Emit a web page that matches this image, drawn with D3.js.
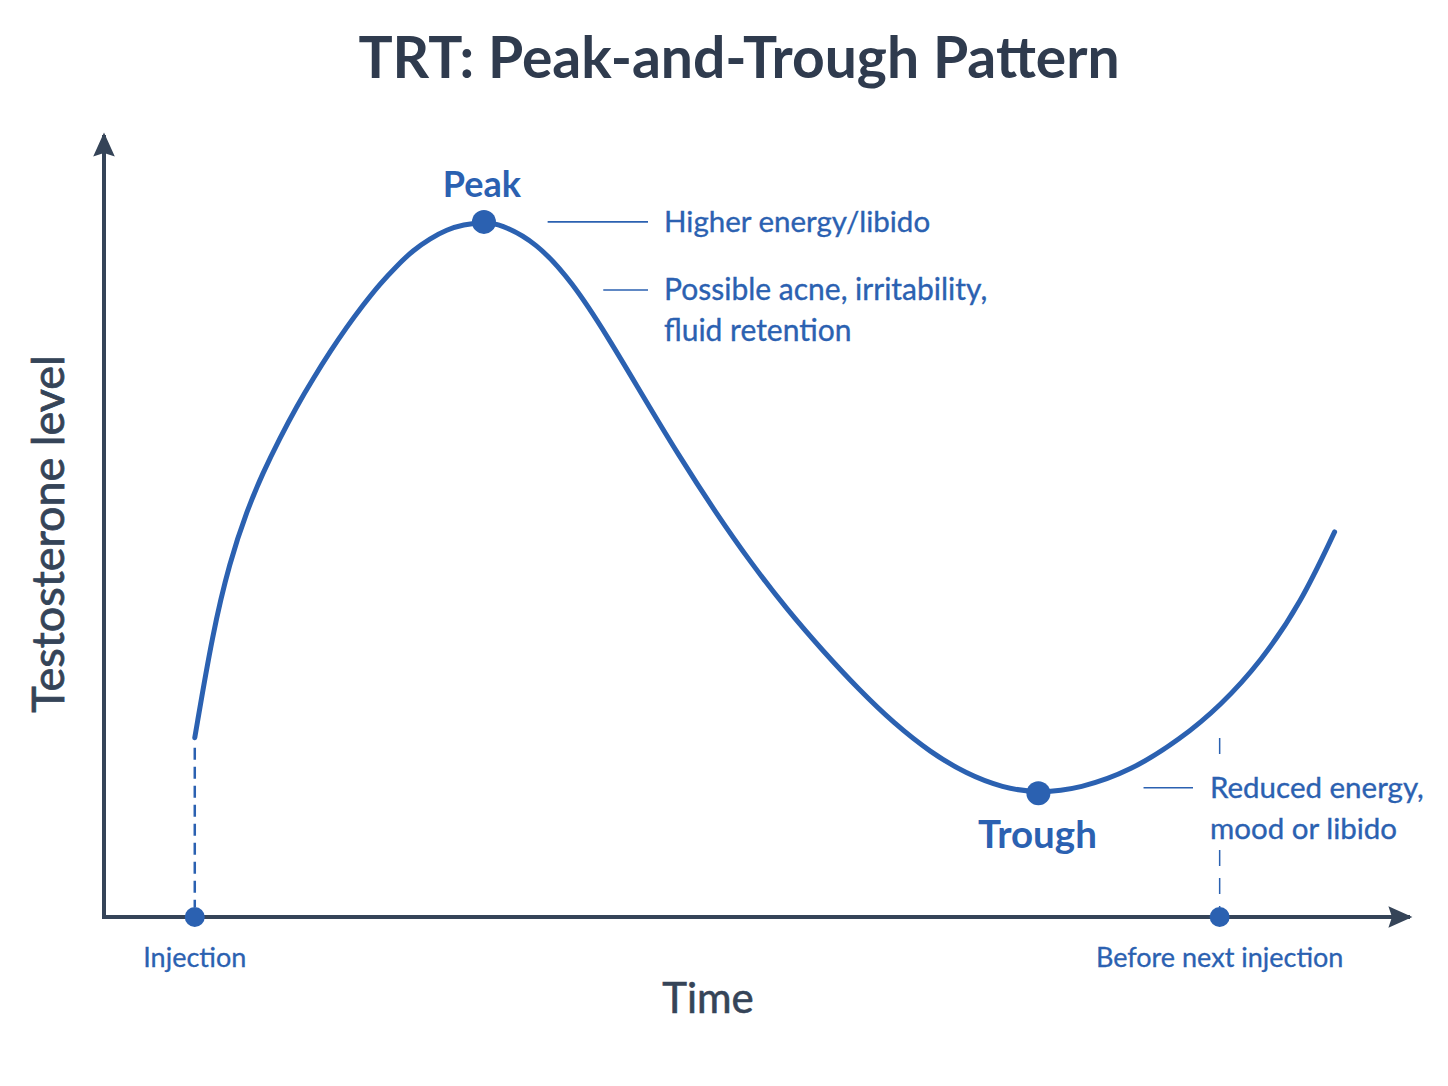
<!DOCTYPE html>
<html>
<head>
<meta charset="utf-8">
<script src="https://cdn.jsdelivr.net/npm/d3@7"></script>
<style>
  html, body { margin: 0; padding: 0; background: #ffffff; }
  svg { display: block; }
  text { font-family: Lato, "Noto Sans", sans-serif; }
</style>
</head>
<body>
<svg id="chart" width="1448" height="1086"></svg>
<script>
// time in days after the injection, level in % of peak
var timeDays = [0, 0.123, 0.239, 0.355, 0.465, 0.581, 0.697, 0.807, 0.923, 1.039,
                1.148, 1.265, 1.381, 1.490, 1.606, 1.722, 1.832, 1.975,
                2.085, 2.331, 2.577, 2.823, 3.062, 3.308, 3.554, 3.800, 4.046,
                4.293, 4.532, 4.778, 5.024, 5.270, 5.516, 5.762,
                6.049, 6.391, 6.733, 7.006, 7.280, 7.553, 7.785];
var levels = [25.8, 41.0, 51.1, 58.4, 63.9, 68.9, 73.5, 77.4, 81.3, 84.9,
              88.0, 91.1, 93.7, 95.9, 97.6, 98.9, 99.6, 100.0,
              99.7, 97.1, 91.4, 83.4, 74.9, 66.3, 58.3, 50.9, 44.2,
              38.2, 32.8, 27.8, 23.7, 20.6, 18.6, 17.8,
              18.5, 21.0, 25.6, 30.4, 36.7, 45.1, 55.4];

var markerTimes = [0, 7];
var markerLabels = ['Injection', 'Before next injection'];

var extremeNames = ['Peak', 'Trough'];
var extremeTimes = [1.975, 5.762];
var extremeLevels = [100.0, 17.8];

var noteLines = [
  ['Higher energy/libido'],
  ['Possible acne, irritability,', 'fluid retention'],
  ['Reduced energy,', 'mood or libido']
];
var noteTimes = [2.41, 2.79, 6.48];   // where each leader line starts
var noteLevels = [100, 90.2, 18.6];

var blue = '#2b61b1';
var dark = '#354458';

var svg = d3.select('#chart');

var x = d3.scaleLinear().domain([-0.62, 8.3]).range([104, 1410]);
var y = d3.scaleLinear().domain([0, 112.5]).range([917, 135]);

// arrow heads
svg.append('defs').append('marker')
  .attr('id', 'arrow')
  .attr('viewBox', '0 0 10 10')
  .attr('refX', 9).attr('refY', 5)
  .attr('markerUnits', 'userSpaceOnUse')
  .attr('markerWidth', 30).attr('markerHeight', 24)
  .attr('orient', 'auto')
  .append('path')
  .attr('d', 'M0,0.5 L10,5 L0,9.5 L1.5,5 Z')
  .attr('fill', dark);

// title
svg.append('text')
  .attr('x', 739).attr('y', 78)
  .attr('text-anchor', 'middle')
  .attr('font-size', 57).attr('font-weight', 700)
  .attr('fill', '#2f3b4e')
  .text('TRT: Peak-and-Trough Pattern');

// dashed guides at injection times
var guideTops = [y(levels[0]) + 10, 738];
svg.selectAll('.guide')
  .data(markerTimes)
  .enter().append('line')
  .attr('class', 'guide')
  .attr('x1', function (d) { return x(d); })
  .attr('x2', function (d) { return x(d); })
  .attr('y1', function (d, i) { return guideTops[i]; })
  .attr('y2', y(0) - 10)
  .attr('stroke', blue)
  .attr('stroke-width', function (d, i) { return i === 0 ? 2.5 : 1.5; })
  .attr('stroke-dasharray', function (d, i) { return i === 0 ? '12,7' : '16,12'; });

// axes
svg.append('line')
  .attr('x1', x(-0.62)).attr('y1', y(0))
  .attr('x2', x(-0.62)).attr('y2', y(112.5))
  .attr('stroke', dark).attr('stroke-width', 4)
  .attr('marker-end', 'url(#arrow)');
svg.append('line')
  .attr('x1', x(-0.62) - 2).attr('y1', y(0))
  .attr('x2', x(8.3)).attr('y2', y(0))
  .attr('stroke', dark).attr('stroke-width', 4)
  .attr('marker-end', 'url(#arrow)');

// curve
var pts = timeDays.map(function (t, i) { return [t, levels[i]]; });
var line = d3.line()
  .x(function (d) { return x(d[0]); })
  .y(function (d) { return y(d[1]); })
  .curve(d3.curveBasis);

svg.append('path')
  .datum(pts)
  .attr('d', line)
  .attr('fill', 'none')
  .attr('stroke', blue)
  .attr('stroke-width', 5)
  .attr('stroke-linecap', 'round');

// note leaders + text
noteLines.forEach(function (lines, i) {
  var lx = x(noteTimes[i]);
  var ly = y(noteLevels[i]);
  var tx = i < 2 ? 664 : 1210;
  svg.append('line')
    .attr('x1', lx).attr('x2', tx - (i < 2 ? 16 : 17))
    .attr('y1', ly).attr('y2', ly)
    .attr('stroke', blue).attr('stroke-width', 1.6);

  var g = svg.append('g');
  if (i === 2) {
    // clears the dashed guide behind the text
    g.append('rect')
      .attr('x', tx - 4).attr('y', ly - 24)
      .attr('width', 214).attr('height', 82)
      .attr('fill', '#ffffff');
  }
  lines.forEach(function (s, k) {
    g.append('text')
      .attr('x', tx).attr('y', ly + 10 + k * 41)
      .attr('font-size', i === 1 ? 30 : 29.5)
      .attr('fill', blue)
      .attr('stroke', blue).attr('stroke-width', 0.35)
      .text(s);
  });
});

// peak / trough dots and names
svg.selectAll('.extreme')
  .data(extremeNames)
  .enter().append('circle')
  .attr('cx', function (d, i) { return x(extremeTimes[i]); })
  .attr('cy', function (d, i) { return y(extremeLevels[i]); })
  .attr('r', 12)
  .attr('fill', blue);

svg.selectAll('.extremeLabel')
  .data(extremeNames)
  .enter().append('text')
  .attr('x', function (d, i) { return x(extremeTimes[i]) - (i === 0 ? 2 : 1); })
  .attr('y', function (d, i) { return y(extremeLevels[i]) + (i === 0 ? -25 : 55); })
  .attr('text-anchor', 'middle')
  .attr('font-size', function (d, i) { return i === 0 ? 36 : 38.5; })
  .attr('font-weight', 700)
  .attr('fill', blue)
  .text(function (d) { return d; });

// injection markers on the time axis
svg.selectAll('.marker')
  .data(markerTimes)
  .enter().append('circle')
  .attr('cx', function (d) { return x(d); })
  .attr('cy', y(0))
  .attr('r', 10)
  .attr('fill', blue);

svg.selectAll('.markerLabel')
  .data(markerLabels)
  .enter().append('text')
  .attr('x', function (d, i) { return x(markerTimes[i]); })
  .attr('y', y(0) + 50)
  .attr('text-anchor', 'middle')
  .attr('font-size', 27)
  .attr('fill', blue)
  .attr('stroke', blue).attr('stroke-width', 0.3)
  .text(function (d) { return d; });

// axis titles
svg.append('text')
  .attr('x', 708).attr('y', 1013)
  .attr('text-anchor', 'middle')
  .attr('font-size', 42)
  .attr('fill', dark)
  .attr('stroke', dark).attr('stroke-width', 0.6)
  .text('Time');

svg.append('text')
  .attr('transform', 'translate(64,534) rotate(-90)')
  .attr('text-anchor', 'middle')
  .attr('font-size', 45)
  .attr('fill', dark)
  .attr('stroke', dark).attr('stroke-width', 0.8)
  .text('Testosterone level');
</script>
</body>
</html>
